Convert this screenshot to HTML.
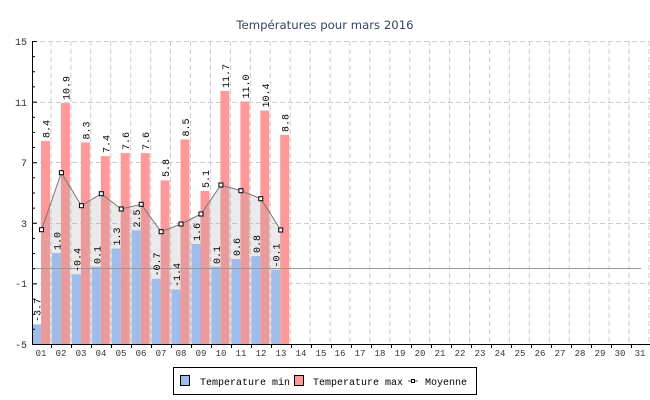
<!DOCTYPE html>
<html><head><meta charset="utf-8"><style>
html,body{margin:0;padding:0;background:#fff}
svg{display:block}
text{font-family:"Liberation Mono","DejaVu Sans Mono",monospace}
</style></head><body>
<svg width="650" height="400" viewBox="0 0 650 400" xmlns="http://www.w3.org/2000/svg">
<rect width="650" height="400" fill="#fff"/>
<text x="325" y="29" text-anchor="middle" font-size="11.7" fill="#334466" style="font-family:'DejaVu Sans','Liberation Sans',sans-serif">Températures pour mars 2016</text>
<!-- grid -->
<g stroke="#cccccc" stroke-width="1" stroke-dasharray="5,3" fill="none">
<path d="M32 41.5H650M32 102.5H650M32 162.5H650M32 223.5H650M32 283.5H650"/>
<path d="M51 41V344M70.9 41V344M90.8 41V344M110.7 41V344M130.7 41V344M150.6 41V344M170.5 41V344M190.5 41V344M210.4 41V344M230.4 41V344M250.3 41V344M270.2 41V344M290.2 41V344M310.1 41V344M330 41V344M350 41V344M369.9 41V344M389.8 41V344M409.8 41V344M429.7 41V344M449.6 41V344M469.6 41V344M489.5 41V344M509.4 41V344M529.4 41V344M549.3 41V344M569.2 41V344M589.2 41V344M609.1 41V344M629.1 41V344M649 41V344"/>
</g>
<!-- red bars -->
<g fill="#ff9999">
<rect x="41" y="140.9" width="9" height="203.1"/>
<rect x="60.9" y="103.1" width="9" height="240.9"/>
<rect x="80.9" y="142.4" width="9" height="201.6"/>
<rect x="100.8" y="156.1" width="9" height="187.9"/>
<rect x="120.7" y="153.1" width="9" height="190.9"/>
<rect x="140.7" y="153.1" width="9" height="190.9"/>
<rect x="160.6" y="180.3" width="9" height="163.7"/>
<rect x="180.5" y="139.4" width="9" height="204.6"/>
<rect x="200.5" y="190.9" width="9" height="153.1"/>
<rect x="220.4" y="90.9" width="9" height="253.1"/>
<rect x="240.4" y="101.5" width="9" height="242.5"/>
<rect x="260.3" y="110.6" width="9" height="233.4"/>
<rect x="280.2" y="134.9" width="9" height="209.1"/>
</g>
<!-- area -->
<polygon points="41.5,344 41.5,229.7 61.4,172.7 81.4,205.7 101.3,193.7 121.2,209 141.2,204.3 161.1,231.7 181,224 201,214 220.9,185 240.9,190.7 260.8,198.7 280.7,230 280.7,344" fill="#9e9ea6" fill-opacity="0.22"/>
<!-- blue bars -->
<g fill="#a0bcea">
<rect x="32" y="324.3" width="9" height="19.7"/>
<rect x="51.9" y="253" width="9" height="91"/>
<rect x="71.9" y="274.3" width="9" height="69.7"/>
<rect x="91.8" y="266.7" width="9" height="77.3"/>
<rect x="111.7" y="248.5" width="9" height="95.5"/>
<rect x="131.7" y="230.3" width="9" height="113.7"/>
<rect x="151.6" y="278.8" width="9" height="65.2"/>
<rect x="171.5" y="289.4" width="9" height="54.6"/>
<rect x="191.5" y="244" width="9" height="100"/>
<rect x="211.4" y="266.7" width="9" height="77.3"/>
<rect x="231.4" y="259.1" width="9" height="84.9"/>
<rect x="251.3" y="256.1" width="9" height="87.9"/>
<rect x="271.2" y="269.7" width="9" height="74.3"/>
</g>
<!-- zero line -->
<line x1="32" y1="268.5" x2="641" y2="268.5" stroke="#999" stroke-width="1"/>
<!-- mean line -->
<polyline points="41.5,229.7 61.4,172.7 81.4,205.7 101.3,193.7 121.2,209 141.2,204.3 161.1,231.7 181,224 201,214 220.9,185 240.9,190.7 260.8,198.7 280.7,230" fill="none" stroke="#777" stroke-width="1"/>
<g fill="#fff" stroke="#000" stroke-width="1">
<rect x="39.5" y="227.7" width="4" height="4"/><rect x="59.4" y="170.7" width="4" height="4"/><rect x="79.4" y="203.7" width="4" height="4"/><rect x="99.3" y="191.7" width="4" height="4"/><rect x="119.2" y="207" width="4" height="4"/><rect x="139.2" y="202.3" width="4" height="4"/><rect x="159.1" y="229.7" width="4" height="4"/><rect x="179" y="222" width="4" height="4"/><rect x="199" y="212" width="4" height="4"/><rect x="218.9" y="183" width="4" height="4"/><rect x="238.9" y="188.7" width="4" height="4"/><rect x="258.8" y="196.7" width="4" height="4"/><rect x="278.7" y="228" width="4" height="4"/>
</g>
<!-- value labels -->
<g font-size="10" fill="#000">
<text transform="translate(49.5,138) rotate(-90)">8.4</text>
<text transform="translate(69.4,100) rotate(-90)">10.9</text>
<text transform="translate(89.4,139.5) rotate(-90)">8.3</text>
<text transform="translate(109.3,153) rotate(-90)">7.4</text>
<text transform="translate(129.2,150) rotate(-90)">7.6</text>
<text transform="translate(149.2,150) rotate(-90)">7.6</text>
<text transform="translate(169.1,177) rotate(-90)">5.8</text>
<text transform="translate(189,136.5) rotate(-90)">8.5</text>
<text transform="translate(209,188) rotate(-90)">5.1</text>
<text transform="translate(228.9,88) rotate(-90)">11.7</text>
<text transform="translate(248.9,98.5) rotate(-90)">11.0</text>
<text transform="translate(268.8,107.5) rotate(-90)">10.4</text>
<text transform="translate(288.7,132) rotate(-90)">8.8</text>
<text transform="translate(40.5,322) rotate(-90)">-3.7</text>
<text transform="translate(60.4,250) rotate(-90)">1.0</text>
<text transform="translate(80.4,272) rotate(-90)">-0.4</text>
<text transform="translate(100.3,264) rotate(-90)">0.1</text>
<text transform="translate(120.2,245.5) rotate(-90)">1.3</text>
<text transform="translate(140.2,227.5) rotate(-90)">2.5</text>
<text transform="translate(160.1,276.5) rotate(-90)">-0.7</text>
<text transform="translate(180,287) rotate(-90)">-1.4</text>
<text transform="translate(200,241) rotate(-90)">1.6</text>
<text transform="translate(219.9,264) rotate(-90)">0.1</text>
<text transform="translate(239.9,256) rotate(-90)">0.6</text>
<text transform="translate(259.8,253) rotate(-90)">0.8</text>
<text transform="translate(279.7,267.5) rotate(-90)">-0.1</text>
</g>
<!-- axes -->
<g stroke="#000" stroke-width="1" fill="none">
<path d="M32.5 41V344.5H650"/>
<path d="M32 41.5h5M32 56.6h3M32 71.8h3M32 86.9h3M32 102.1h5M32 117.2h3M32 132.4h3M32 147.5h3M32 162.7h5M32 177.8h3M32 193h3M32 208.1h3M32 223.3h5M32 238.4h3M32 253.6h3M32 268.7h3M32 283.9h5M32 299h3M32 314.2h3M32 329.3h3"/>
<path d="M51.5 344v4M71.5 344v4M91.5 344v4M111.5 344v4M131.5 344v4M151.5 344v4M171.5 344v4M191.5 344v4M211.5 344v4M231.5 344v4M251.5 344v4M271.5 344v4M291.5 344v4M311.5 344v4M331.5 344v4M351.5 344v4M371.5 344v4M391.5 344v4M411.5 344v4M431.5 344v4M451.5 344v4M471.5 344v4M491.5 344v4M511.5 344v4M531.5 344v4M551.5 344v4M571.5 344v4M591.5 344v4M611.5 344v4M631.5 344v4"/>
</g>
<g font-size="10" fill="#333" text-anchor="end" style="font-family:'DejaVu Sans','Liberation Sans',sans-serif">
<text x="27" y="45">15</text><text x="27" y="106">11</text><text x="27" y="166">7</text><text x="27" y="227">3</text><text x="27" y="287">-1</text><text x="27" y="348">-5</text>
</g>
<g font-size="9" fill="#333" text-anchor="middle" style="font-family:'DejaVu Sans','Liberation Sans',sans-serif">
<text x="41" y="356">01</text><text x="61" y="356">02</text><text x="81" y="356">03</text><text x="101" y="356">04</text><text x="121" y="356">05</text><text x="141" y="356">06</text><text x="161" y="356">07</text><text x="181" y="356">08</text><text x="201" y="356">09</text><text x="221" y="356">10</text><text x="241" y="356">11</text><text x="261" y="356">12</text><text x="281" y="356">13</text><text x="301" y="356">14</text><text x="321" y="356">15</text><text x="340" y="356">16</text><text x="360" y="356">17</text><text x="380" y="356">18</text><text x="400" y="356">19</text><text x="420" y="356">20</text><text x="440" y="356">21</text><text x="460" y="356">22</text><text x="480" y="356">23</text><text x="500" y="356">24</text><text x="520" y="356">25</text><text x="540" y="356">26</text><text x="560" y="356">27</text><text x="580" y="356">28</text><text x="600" y="356">29</text><text x="620" y="356">30</text><text x="640" y="356">31</text>
</g>
<!-- legend -->
<rect x="173.5" y="367.5" width="303" height="27" fill="#fff" stroke="#000"/>
<rect x="180.5" y="375.5" width="9" height="10" fill="#a0bcea" stroke="#000"/>
<text x="200" y="385" font-size="10" fill="#000">Temperature min</text>
<rect x="294.5" y="375.5" width="9" height="10" fill="#ff9999" stroke="#000"/>
<text x="313" y="385" font-size="10" fill="#000">Temperature max</text>
<line x1="408" y1="381" x2="418" y2="381" stroke="#555"/>
<rect x="411.5" y="379.5" width="3" height="3" fill="#fff" stroke="#000"/>
<text x="425" y="385" font-size="10" fill="#000">Moyenne</text>
</svg>
</body></html>
